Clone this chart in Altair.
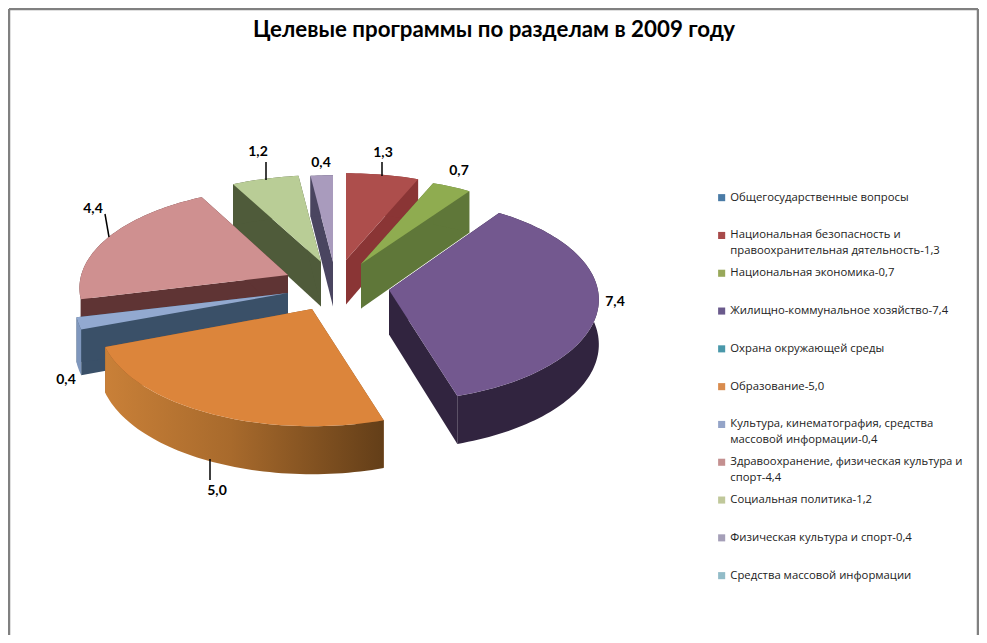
import math
import altair as alt
import pandas as pd

# ---------- data ----------
TITLE = "Целевые программы по разделам в 2009 году"
categories = [
    "Общегосударственные вопросы",
    "Национальная безопасность и\nправоохранительная дятельность-1,3",
    "Национальная экономика-0,7",
    "Жилищно-коммунальное хозяйство-7,4",
    "Охрана окружающей среды",
    "Образование-5,0",
    "Культура, кинематография, средства\nмассовой информации-0,4",
    "Здравоохранение, физическая культура и\nспорт-4,4",
    "Социальная политика-1,2",
    "Физическая культура и спорт-0,4",
    "Средства массовой информации",
]
values = [0, 1.3, 0.7, 7.4, 0, 5.0, 0.4, 4.4, 1.2, 0.4, 0]
legend_colors = ["#4a7ba6", "#a84a4a", "#98a85a", "#6a5a8c", "#4a98aa", "#d98c4e",
                 "#94a4c8", "#c49090", "#c0c89a", "#a59fb8", "#92bcc8"]

# ---------- layout and style, page pixels ----------
W, H = 971, 627
A, B, K = 211, 98, 0.13
tips = {1: (346, 260), 2: (361, 264), 3: (389, 290), 5: (312, 309),
        6: (288, 293), 7: (288, 275), 8: (321, 262), 9: (333, 262)}
width_factor = {3: 0.99, 7: 0.98}
depth_override = {3: 101, 5: 102}
perspective_override = {3: 0.095}
top_colors = {1: "#ad4e4c", 2: "#8fac50", 3: "#73588f", 5: "#dc853b",
              6: "#92a9d0", 7: "#cf9090", 8: "#b9cd96", 9: "#a99bbd"}
radial_colors = {1: "#8a3535", 2: "#5f7739", 3: "#31243f", 5: "#8a5526",
                 6: "#3a5068", 7: "#5f3434", 8: "#4f5b3a", 9: "#4a4560"}
rim_colors = {1: "#8a3535", 2: "#5f7739", 3: "#31243f", 6: "#7f97bd",
              7: "#5f3434", 8: "#4f5b3a", 9: "#4a4560"}
orange_rim = alt.LinearGradient(
    gradient="linear", x1=0, x2=1, y1=0, y2=0,
    stops=[alt.GradientStop(offset=0, color="#c98038"),
           alt.GradientStop(offset=0.45, color="#a86a2c"),
           alt.GradientStop(offset=1, color="#633e18")])
paint_order = [9, 8, 1, 2, 7, 6, 3, 5]
label_pos = {1: (383, 153), 2: (459, 171), 3: (615, 302), 5: (217, 491),
             6: (66, 380), 7: (93, 209), 8: (258, 152), 9: (321, 163)}
leaders = [(266, 162, 266, 180), (382, 162, 382, 176),
           (105, 214, 109, 237), (210, 459, 210, 480)]
frame = [(9, 9, 9, 635), (9, 9, 978, 9), (978, 9, 978, 635)]

TOTAL = sum(values)


def px(x):
    return x - 8


def rim_point(idx, t):
    tip = tips[idx]
    d = 1 + perspective_override.get(idx, K) * math.cos(t)
    return (tip[0] + A * width_factor.get(idx, 1) * math.sin(t) / d,
            tip[1] - depth_override.get(idx, B) * math.cos(t) / d)


def drop(t):
    return 44.5 - 3.5 * math.cos(t)


x_scale = alt.Scale(domain=[0, W], range=[0, W], nice=False, zero=False)
y_scale = alt.Scale(domain=[0, H], range=[0, H], nice=False, zero=False)


def poly_layer(points, fill):
    df = pd.DataFrame([{"x": px(p[0]), "y": px(p[1]), "i": n} for n, p in enumerate(points + points[:1])])
    return alt.Chart(df).mark_line(filled=True, fill=fill, stroke=None, interpolate="linear").encode(
        x=alt.X("x:Q", scale=x_scale, axis=None),
        y=alt.Y("y:Q", scale=y_scale, axis=None),
        order="i:Q",
    )


# slice angles, clockwise from the top
spans = {}
acc = 0.0
for idx, v in enumerate(values):
    spans[idx] = (acc / TOTAL * 2 * math.pi, (acc + v) / TOTAL * 2 * math.pi)
    acc += v

layers = []
for idx in paint_order:
    t0, t1 = spans[idx]
    tip = tips[idx]
    n = max(6, int((t1 - t0) * 40))
    ts = [t0 + (t1 - t0) * j / n for j in range(n + 1)]
    top_rim = [rim_point(idx, t) for t in ts]
    low_rim = [(p[0], p[1] + drop(t)) for p, t in zip(top_rim, ts)]
    tip_low = (tip[0], tip[1] + 44.5)
    for end in (0, -1):
        layers.append(poly_layer([tip, top_rim[end], low_rim[end], tip_low], radial_colors[idx]))
    layers.append(poly_layer(top_rim + low_rim[::-1], orange_rim if idx == 5 else rim_colors[idx]))
    layers.append(poly_layer([tip] + top_rim, top_colors[idx]))

# value labels
label_df = pd.DataFrame([
    {"x": px(label_pos[i][0]), "y": px(label_pos[i][1]), "text": f"{values[i]:.1f}".replace(".", ",")}
    for i in paint_order
])
labels = alt.Chart(label_df).mark_text(font="Lato", fontWeight="bold", fontSize=14, color="#000000").encode(
    x=alt.X("x:Q", scale=x_scale, axis=None),
    y=alt.Y("y:Q", scale=y_scale, axis=None),
    text="text:N",
)


def seg_layer(segs, color, width):
    df = pd.DataFrame([{"x": px(a), "y": px(b), "x2": px(c), "y2": px(d)} for a, b, c, d in segs])
    return alt.Chart(df).mark_rule(color=color, strokeWidth=width).encode(
        x=alt.X("x:Q", scale=x_scale, axis=None),
        y=alt.Y("y:Q", scale=y_scale, axis=None),
        x2="x2:Q",
        y2="y2:Q",
    )


# legend comes from an otherwise empty layer with the full category domain
legend_df = pd.DataFrame({"category": categories, "value": values})
legend_layer = alt.Chart(legend_df).transform_filter("datum.value < 0").mark_point(
    filled=True, shape="square").encode(
    x=alt.X("value:Q", scale=x_scale, axis=None),
    y=alt.Y("value:Q", scale=y_scale, axis=None),
    color=alt.Color(
        "category:N",
        scale=alt.Scale(domain=categories, range=legend_colors),
        legend=alt.Legend(
            title=None, orient="none", legendX=px(716), legendY=px(192),
            symbolType="square", symbolSize=50, symbolStrokeWidth=0, symbolOpacity=1,
            labelFont="Open Sans", labelFontSize=11.3, labelColor="#222222",
            labelLimit=300, labelOffset=3, rowPadding=9.8, gridAlign="all",
            labelExpr="split(datum.label,'\\n')",
            values=categories,
        ),
    ),
)

chart = alt.layer(
    seg_layer(frame, "#808080", 2.5),
    *layers,
    seg_layer(leaders, "#000000", 1.5),
    labels,
    legend_layer,
).properties(
    width=W,
    height=H,
    padding=0,
    autosize=alt.AutoSizeParams(type="none"),
    title=alt.TitleParams(
        TITLE, font="Lato", fontSize=22.3, fontWeight="bold", color="#000000",
        anchor="middle", offset=-34, dx=0.5,
    ),
).configure(style={"guide-label": {"lineHeight": 16}}).configure_view(stroke=None)

chart.save("out.html", embed_options={"renderer": "svg", "actions": False})
